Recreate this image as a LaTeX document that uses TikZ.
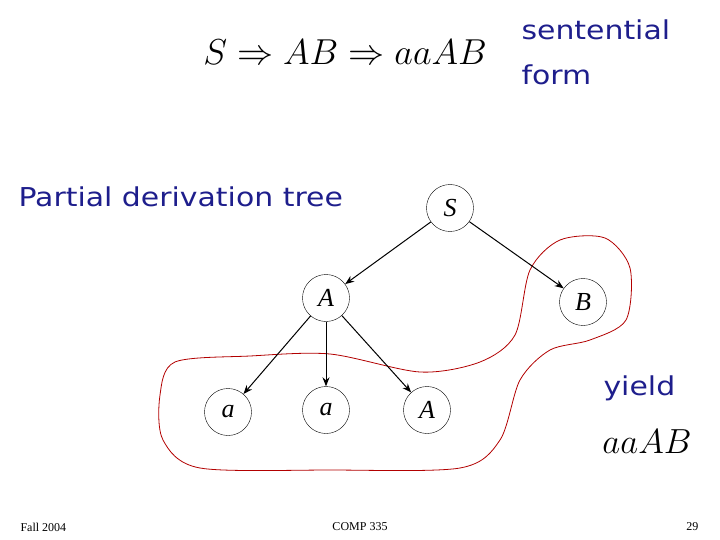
\documentclass[tikz,border=0pt]{standalone}
\usepackage{fontspec}
\setmainfont{Liberation Serif}
\newfontfamily\dv[FakeStretch=1.15]{DejaVu Sans}
\usetikzlibrary{arrows.meta}
\definecolor{navy}{RGB}{30,30,140}
\begin{document}
\begin{tikzpicture}[x=1pt,y=-1pt,
 vtx/.style={circle,draw,fill=white,minimum size=47pt,inner sep=0pt,font=\fontsize{26}{26}\selectfont\itshape},
 edge/.style={-{Stealth[length=9pt,width=7pt]},line width=1pt},
 lab/.style={text=navy,font=\dv\fontsize{26}{30}\selectfont,anchor=west}]
\useasboundingbox (0,0) rectangle (720,540);
\draw[red!70!black,line width=0.8pt,smooth cycle] plot coordinates{
 (175,362) (250,356) (330,354) (420,372) (480,362) (515,335) (530,270) (560,240) (605,238) (630,268) (626,320) (590,340) (550,350) (520,380) (500,440) (460,468) (330,470) (200,468) (163,440) (160,395)};
\node[vtx] (S) at (450,208) {S};
\node[vtx] (A) at (326,298) {A};
\node[vtx] (B) at (583,302) {B};
\node[vtx] (a1) at (228,412) {a};
\node[vtx] (a2) at (326,410) {a};
\node[vtx] (A2) at (427,410) {A};
\draw[edge] (S) -- (A);
\draw[edge] (S) -- (B);
\draw[edge] (A) -- (a1);
\draw[edge] (A) -- (a2);
\draw[edge] (A) -- (A2);
\node[scale=1.45,font=\fontsize{24}{24}\selectfont] (der) at (345,52) {$S\Rightarrow AB\Rightarrow aaAB$};
\node[lab] (s1) at (518,30) {sentential};
\node[lab] (s2) at (518,75) {form};
\node[lab] (pt) at (15,197) {Partial derivation tree};
\node[lab] (y) at (600,388) {yield};
\node[scale=1.4,font=\fontsize{24}{24}\selectfont] (yy) at (647,442) {$aaAB$};
\node[font=\fontsize{12}{12}\selectfont,anchor=west] (f1) at (17,527) {Fall 2004};
\node[font=\fontsize{12}{12}\selectfont] (f2) at (360,527) {COMP 335};
\node[font=\fontsize{12}{12}\selectfont,anchor=east] (f3) at (702,527) {29};
\end{tikzpicture}
\end{document}
